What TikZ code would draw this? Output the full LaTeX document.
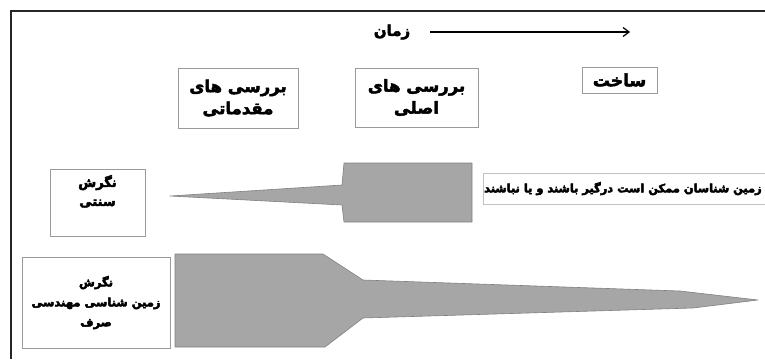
\documentclass[tikz,border=0pt]{standalone}
\usepackage{fontspec}
\TeXXeTstate=1
\newfontfamily\arabicfont[Script=Arabic]{DejaVu Sans}
\usetikzlibrary{arrows.meta}
% heavy Persian text: bold face, filled and stroked
\newcommand\fa[1]{{\arabicfont\bfseries\special{pdf:literal 2 Tr 0.45 w}\beginR #1\endR\special{pdf:literal 0 Tr}}}
\definecolor{wedgefill}{HTML}{A6A6A6}
\definecolor{wedgeline}{HTML}{808080}
\definecolor{boxline}{HTML}{9A9A9A}
\begin{document}
\begin{tikzpicture}[x=1pt,y=-1pt,
  labelbox/.style={draw=boxline,line width=0.8pt,fill=white,align=center,inner sep=0pt},
  wedge/.style={fill=wedgefill,draw=wedgeline,line width=0.6pt,line join=round}]
\useasboundingbox (0,0) rectangle (765,359);
% outer frame
\draw[line width=2pt,black!85] (765,11) -- (11,11) -- (11,359);
% time axis
\node[font=\fontsize{15}{17}\selectfont] (time) at (392,32) {\fa{زمان}};
\coordinate (tstart) at (430,32);
\coordinate (tend) at (630,32);
\draw[line width=1.2pt,-{Straight Barb[length=6pt,width=9pt]}] (tstart) -- (tend);
% phase boxes
\node[labelbox,minimum width=120pt,minimum height=60pt,font=\fontsize{16.5}{22}\selectfont] (pre) at (238,98)
  {\fa{بررسی های}\\\fa{مقدماتی}};
\node[labelbox,minimum width=123pt,minimum height=59pt,font=\fontsize{16.5}{22}\selectfont] (main) at (416.5,97.5)
  {\fa{بررسی های}\\\fa{اصلی}};
\node[labelbox,minimum width=75pt,minimum height=26pt,font=\fontsize{17}{19}\selectfont] (build) at (619.5,80)
  {\fa{ساخت}};
% approach boxes
\node[labelbox,minimum width=95pt,minimum height=67pt,font=\fontsize{13}{19}\selectfont] (trad) at (97.5,202.5)
  {\fa{نگرش}\\\fa{سنتی}\\[5pt]};
\node[labelbox,minimum width=148pt,minimum height=91pt,font=\fontsize{11.5}{20}\selectfont] (eng) at (96,302.5)
  {\fa{نگرش}\\\fa{زمین شناسی مهندسی}\\\fa{صرف}};
% note box
\node[draw=boxline!60,line width=0.6pt,fill=white,minimum width=300pt,minimum height=31pt,anchor=west,inner sep=0pt] (notebox) at (483,188.5) {};
\node[font=\fontsize{11.4}{13}\selectfont] (note) at (623,188.5)
  {\fa{زمین شناسان ممکن است درگیر باشند و یا نباشند}};
% involvement wedges
\draw[wedge] (170,196) -- (342,185) -- (344,163) -- (472,163) -- (472,222) -- (344,222) -- (342,205) -- cycle;
\draw[wedge] (175,254) -- (323,254) -- (363,280) -- (680,291) -- (758,300) -- (693,308) -- (363,318) -- (325,347) -- (175,347) -- cycle;
\end{tikzpicture}
\end{document}
